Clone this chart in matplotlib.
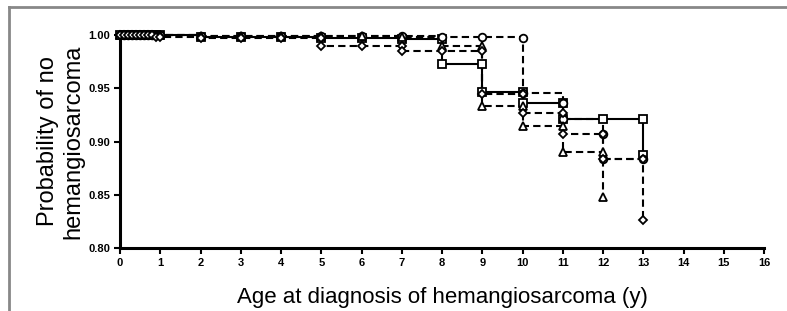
import matplotlib.pyplot as plt
from matplotlib.lines import Line2D

plt.rcParams['font.family'] = ['Liberation Sans', 'DejaVu Sans']

# Kaplan-Meier style curves: (time, survival) pairs, repeated time = drop
early = [0, 0.1, 0.2, 0.3, 0.4, 0.5, 0.6, 0.7, 0.8, 0.9, 1]

circ_t = early + [2, 3, 4, 5, 6, 7, 8, 9, 10, 10, 11, 11, 12, 12, 13]
circ_s = [1.0] * 11 + [0.999, 0.999, 0.999, 0.999, 0.999, 0.999, 0.998, 0.998,
                       0.997, 0.946, 0.936, 0.921, 0.907, 0.884, 0.884]

sq_t = early + [2, 3, 4, 5, 6, 7, 8, 8, 9, 9, 10, 10, 11, 11, 12, 13, 13]
sq_s = [1.0] * 11 + [0.998, 0.998, 0.998, 0.997, 0.997, 0.996, 0.996, 0.973,
                     0.973, 0.947, 0.947, 0.936, 0.936, 0.921, 0.921, 0.921, 0.887]

tri_t = early + [2, 3, 4, 5, 6, 7, 8, 9, 9, 10, 10, 11, 11, 12, 12]
tri_s = [1.0] * 11 + [0.999, 0.999, 0.999, 0.999, 0.999, 0.998, 0.990, 0.990,
                      0.933, 0.933, 0.915, 0.915, 0.890, 0.890, 0.848]

dia_t = early + [2, 3, 4, 5, 5, 6, 7, 7, 8, 9, 9, 10, 10, 11, 11, 12, 12, 13, 13]
dia_s = [1.0] * 9 + [0.998, 0.998] + [0.997, 0.997, 0.997, 0.997, 0.990, 0.990,
                                      0.990, 0.985, 0.985, 0.985, 0.945, 0.945,
                                      0.927, 0.927, 0.907, 0.907, 0.884, 0.884, 0.826]

series = [
    (sq_t, sq_s, 's', '-'),
    (circ_t, circ_s, 'o', '--'),
    (tri_t, tri_s, '^', '--'),
    (dia_t, dia_s, 'D', '--'),
]

x_ticks = list(range(0, 17))
y_ticks = [0.80, 0.85, 0.90, 0.95, 1.00]

fig = plt.figure(figsize=(7.87, 3.11), dpi=100)
ax = fig.add_axes([0.1525, 0.203, 0.8185, 0.684])

for t, s, m, ls in series:
    ax.plot(t, s, drawstyle='steps-post', color='black', linestyle=ls,
            linewidth=1.5, dashes=(3.5, 2) if ls == '--' else (None, None),
            clip_on=False)
    ax.plot(t, s, linestyle='none', marker=m, markersize=5.5 if m != 'D' else 4.5,
            markerfacecolor='white', markeredgecolor='black',
            markeredgewidth=1.3, clip_on=False, zorder=3)

ax.set_xlim(0, 16)
ax.set_ylim(0.80, 1.00)
ax.set_xticks(x_ticks)
ax.set_yticks(y_ticks)
ax.set_yticklabels(['%.2f' % v for v in y_ticks])
ax.tick_params(direction='out', length=4, width=1.5, labelsize=8, pad=3)
for lab in ax.get_xticklabels() + ax.get_yticklabels():
    lab.set_fontweight('bold')

for side in ['top', 'right']:
    ax.spines[side].set_visible(False)
for side in ['left', 'bottom']:
    ax.spines[side].set_linewidth(2.2)

ax.set_xlabel('Age at diagnosis of hemangiosarcoma (y)', fontsize=16, labelpad=14)
ax.set_ylabel('Probability of no\nhemangiosarcoma', fontsize=17, labelpad=3,
              linespacing=1.2)

# grey frame at top and left edge of the picture
fig.add_artist(Line2D([0.011, 1.0], [0.978, 0.978], color='#888888', linewidth=2,
                      transform=fig.transFigure))
fig.add_artist(Line2D([0.011, 0.011], [0.0, 0.978], color='#888888', linewidth=2,
                      transform=fig.transFigure))

fig.savefig('out.png', dpi=100)
